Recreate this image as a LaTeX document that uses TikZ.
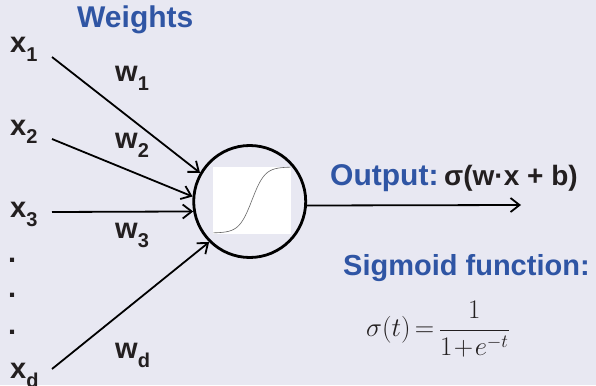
\documentclass[tikz,border=0pt]{standalone}
\usepackage[no-math]{fontspec}
\setmainfont{Liberation Sans}
\usepackage{graphicx}
\usetikzlibrary{arrows.meta}
\definecolor{bg}{HTML}{E8E8F2}
\definecolor{tblue}{HTML}{2F55A4}
\definecolor{tink}{HTML}{231F20}
\newcommand{\sbx}[1]{\raisebox{-9pt}{\fontsize{20}{20}\selectfont #1}}
\tikzset{
  lab/.style={font=\fontsize{29}{29}\selectfont\bfseries, text=tink, inner sep=0pt, anchor=base west},
  head/.style={font=\fontsize{30}{30}\selectfont\bfseries, text=tblue, inner sep=0pt, anchor=base west},
  inarrow/.style={line width=1.8pt, -{Straight Barb[length=9pt,width=14pt,line width=1.8pt]}},
}
\begin{document}
\begin{tikzpicture}[x=1pt,y=-1pt]
\fill[bg] (0,0) rectangle (596,385);
\useasboundingbox (0,0) rectangle (596,385);
% neuron
\node[circle, draw, line width=2.8pt, minimum size=112pt, inner sep=0pt] (neuron) at (249.7,201.5) {};
\fill[white] (213.3,166.7) rectangle (290.7,234);
\draw[gray!80!black, line width=0.6pt] plot[domain=-6:6, samples=80] ({252+\x*6.45},{233-66/(1+exp(-\x))});
% labels
\node[head] (weights) at (77,28) {Weights};
\node[lab] (x1) at (10,53) {x\sbx{1}};
\node[lab] (x2) at (10,135) {x\sbx{2}};
\node[lab] (x3) at (10,217) {x\sbx{3}};
\node[lab] (xd) at (10,378) {x\sbx{d}};
\node[lab] (d1) at (8,262) {.};
\node[lab] (d2) at (8,297) {.};
\node[lab] (d3) at (8,334) {.};
\node[lab] (w1) at (115,82) {w\sbx{1}};
\node[lab] (w2) at (115,148) {w\sbx{2}};
\node[lab] (w3) at (115,238) {w\sbx{3}};
\node[lab] (wd) at (115,358) {w\sbx{d}};
% input connectors
\coordinate (s1) at (52,57);
\coordinate (s2) at (52,139);
\coordinate (s3) at (52,212);
\coordinate (sd) at (52,369);
\draw[inarrow] (s1) -- (neuron.150);
\draw[inarrow] (s2) -- (neuron.175);
\draw[inarrow] (s3) -- (neuron.190);
\draw[inarrow] (sd) -- (neuron.225);
% output
\coordinate (oend) at (521,205);
\draw[line width=1.8pt, -{Straight Barb[length=9pt,width=14pt,line width=1.8pt]}] (neuron.-4) -- (oend);
\node[head] (out) at (330,185) {Output:};
\node[lab, font=\fontsize{28}{28}\selectfont\bfseries] (outf) at (444,185) {σ(w·x + b)};
\node[head, font=\fontsize{29}{29}\selectfont\bfseries] (sig) at (343,275) {Sigmoid function:};
\node[inner sep=0pt, text=tink, font=\fontsize{24}{24}\selectfont] (formula) at (438,329) {\scalebox{1.08}{$\displaystyle \sigma(t)\mskip-2mu=\mskip-2mu\frac{1}{1\mskip-3mu+\mskip-3mu e^{-t}}$}};
\end{tikzpicture}
\end{document}
